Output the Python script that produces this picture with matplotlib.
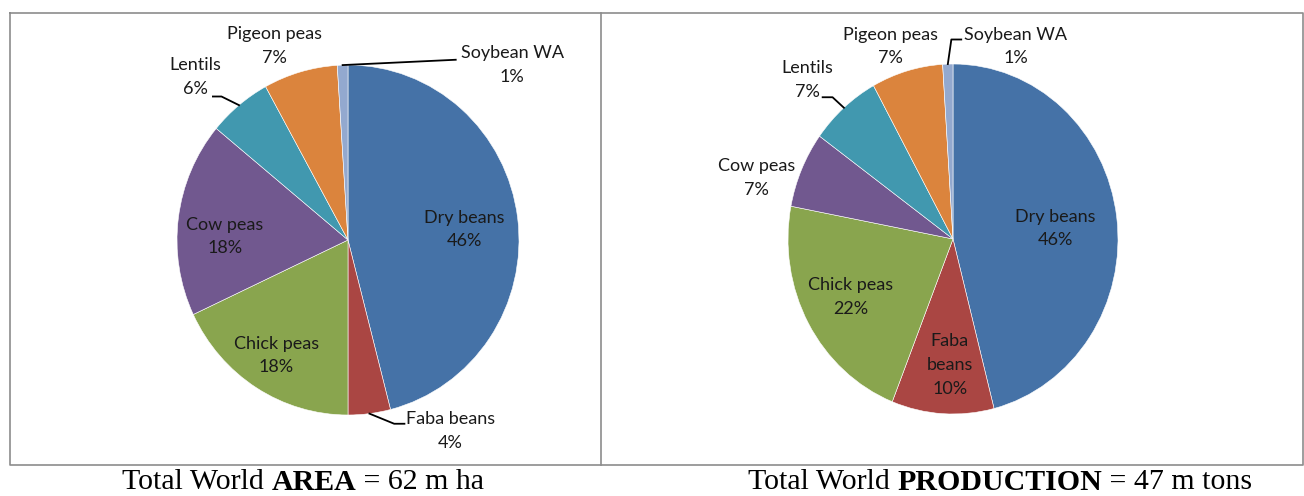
import numpy as np
import matplotlib.pyplot as plt

# Pulse crops, share of world total (%)
crops = ['Dry beans', 'Faba beans', 'Chick peas', 'Cow peas', 'Lentils', 'Pigeon peas', 'Soybean WA']
area_share = [46, 4, 18, 18, 6, 7, 1]
production_share = [46, 10, 22, 7, 7, 7, 1]
area_total = '62 m ha'
production_total = '47 m tons'

colors = ['#4572A7', '#AA4643', '#89A54E', '#71588F', '#4198AF', '#DB843D', '#93A9CF']

# label text per crop (Faba beans breaks differently on the right chart)
area_names = ['Dry beans', 'Faba beans', 'Chick peas', 'Cow peas', 'Lentils', 'Pigeon peas', 'Soybean WA']
prod_names = ['Dry beans', 'Faba\nbeans', 'Chick peas', 'Cow peas', 'Lentils', 'Pigeon peas', 'Soybean WA']

# label positions in units of pie radius (layout only)
area_label_pos = [(0.68, 0.06), (0.60, -1.09), (-0.42, -0.66), (-0.72, 0.02),
                  (-0.89, 0.93), (-0.43, 1.11), (0.96, 1.00)]
prod_label_pos = [(0.62, 0.06), (-0.02, -0.72), (-0.62, -0.33), (-1.19, 0.35),
                  (-0.88, 0.91), (-0.38, 1.10), (0.38, 1.10)]

# leader lines: crop index -> (elbow, end) in radius units
area_leaders = {1: [(0.27, -1.05), (0.33, -1.05)],
                4: [(-0.74, 0.82), (-0.79, 0.82)],
                6: [(0.63, 1.03), (0.63, 1.03)]}
prod_leaders = {4: [(-0.73, 0.81), (-0.79, 0.81)],
                6: [(-0.01, 1.14), (0.05, 1.14)]}

W, H = 1304, 496
fig = plt.figure(figsize=(W / 100, H / 100), dpi=100)
fig.patch.set_facecolor('white')

label_font = 'Lato'


def draw_pie(box, values, names, label_pos, leaders):
    x0, y0, x1, y1 = box  # pixel box, top-left origin
    ax = fig.add_axes([x0 / W, 1 - y1 / H, (x1 - x0) / W, (y1 - y0) / H])
    ax.pie(values, colors=colors, startangle=90, counterclock=False,
           wedgeprops=dict(linewidth=0.4, edgecolor='white'))
    ax.set_aspect('auto')
    ax.set_xlim(-1, 1)
    ax.set_ylim(-1, 1)
    ax.axis('off')
    for name, v, (lx, ly) in zip(names, values, label_pos):
        ax.text(lx, ly, f'{name}\n{v}%', ha='center', va='center',
                fontsize=13, family=label_font, color='#1a1a1a',
                linespacing=1.6, clip_on=False)
    cum = np.cumsum([0] + list(values)) / sum(values)
    for i, pts in leaders.items():
        mid = (cum[i] + cum[i + 1]) / 2
        ang = np.pi / 2 - 2 * np.pi * mid
        xs = [np.cos(ang)] + [p[0] for p in pts]
        ys = [np.sin(ang)] + [p[1] for p in pts]
        ax.plot(xs, ys, color='black', lw=1.3, clip_on=False)
    return ax


draw_pie((177, 65, 519, 415), area_share, area_names, area_label_pos, area_leaders)
draw_pie((788, 64, 1118, 414), production_share, prod_names, prod_label_pos, prod_leaders)

# outer frame and divider
frame = fig.add_axes([0, 0, 1, 1], facecolor='none')
frame.set_xlim(0, W)
frame.set_ylim(H, 0)
frame.axis('off')
frame.plot([10, 1303, 1303, 10, 10], [13, 13, 465, 465, 13], color='#8c8c8c', lw=1.2)
frame.plot([601, 601], [13, 465], color='#8c8c8c', lw=1.2)

# captions: regular / bold / regular pieces laid side by side
renderer = fig.canvas.get_renderer()


def caption(cx, cy, parts):
    texts = []
    for s, weight in parts:
        t = frame.text(0, cy, s, fontsize=21.5, family='Liberation Serif',
                       fontweight=weight, va='center', ha='left')
        texts.append(t)
    widths = [t.get_window_extent(renderer).width for t in texts]
    x = cx - sum(widths) / 2
    for t, w in zip(texts, widths):
        t.set_x(x)
        x += w


caption(303, 482, [('Total World ', 'normal'), ('AREA', 'bold'), (f' = {area_total}', 'normal')])
caption(1000, 482, [('Total World ', 'normal'), ('PRODUCTION', 'bold'), (f' = {production_total}', 'normal')])

fig.savefig('out.png', dpi=100)
